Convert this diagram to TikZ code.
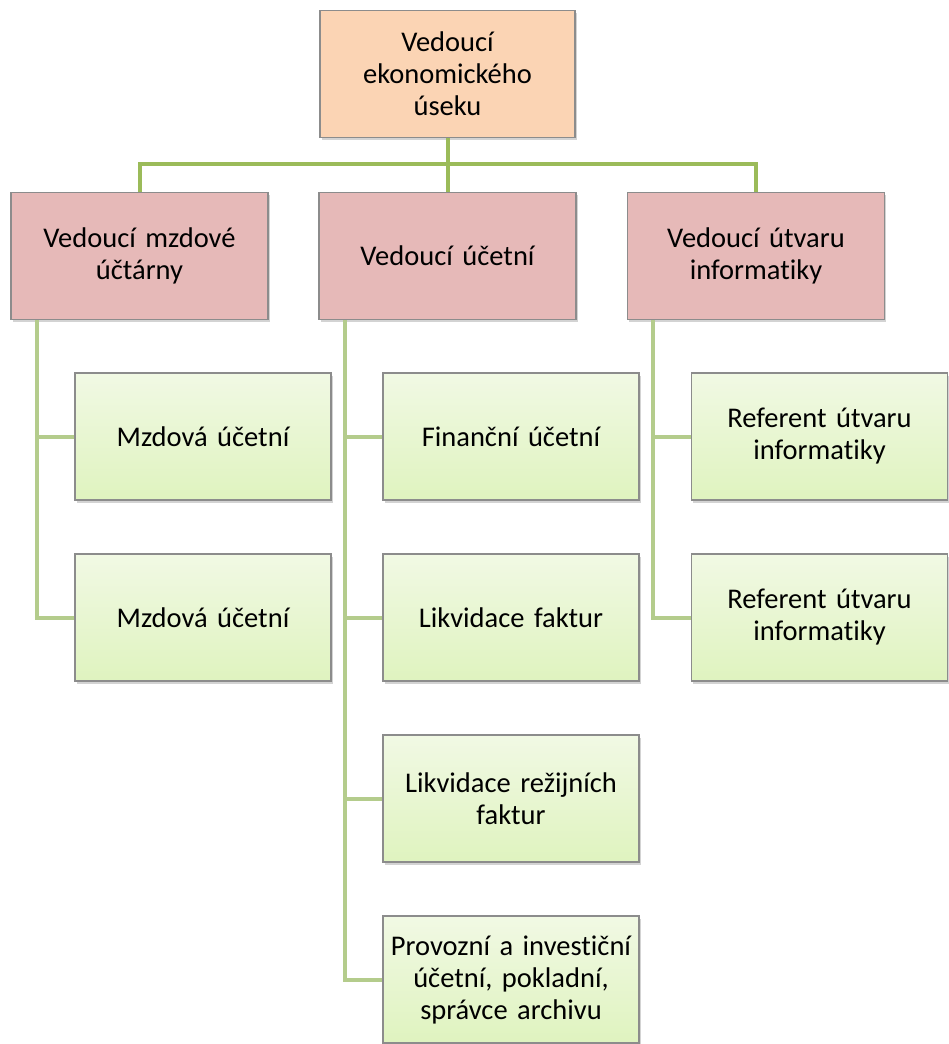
\documentclass[tikz,border=0pt]{standalone}
\usepackage{fontspec}
\setmainfont{Carlito}[Ligatures={NoCommon}]
\usepackage{xcolor}
\usepackage{tikz}
\usetikzlibrary{positioning, calc, shadows}

\definecolor{headfill}{HTML}{FBD4B4}
\definecolor{leadfill}{HTML}{E6B9B8}
\definecolor{stafftop}{HTML}{F1F9E4}
\definecolor{staffbot}{HTML}{DFF3BF}
\definecolor{boxline}{HTML}{8C8C8C}
\definecolor{busgreen}{HTML}{9BBB59}
\definecolor{branchgreen}{HTML}{B4CC8C}

\tikzset{
  orgbox/.style={draw=boxline, line width=1.2pt, align=center, text width=250pt,
    minimum height=127pt, inner sep=0pt, font=\fontsize{28.5}{32}\selectfont,
    drop shadow={opacity=0.35, shadow xshift=1.5pt, shadow yshift=-2.5pt}},
  headbox/.style={orgbox, fill=headfill, minimum width=255pt},
  leadbox/.style={orgbox, fill=leadfill, minimum width=257pt},
  staffbox/.style={orgbox, top color=stafftop, bottom color=staffbot, minimum width=256pt},
  busline/.style={busgreen, line width=4pt},
  branchline/.style={branchgreen, line width=4pt}
}

\begin{document}
\begin{tikzpicture}[x=1pt, y=-1pt]
  \useasboundingbox (0,0) rectangle (949,1044);

  \coordinate (bus) at (0,164);

  \node[headbox] (head) at (447.5,74) {Vedoucí\\ekonomického\\úseku};

  \node[leadbox] (mzdy) at (139.5,256) {Vedoucí mzdové\\účtárny};
  \node[leadbox] (ucto) at (447.5,256) {Vedoucí účetní};
  \node[leadbox] (info) at (756,256) {Vedoucí útvaru\\informatiky};

  \node[staffbox] (mz1) at (203,436.5) {Mzdová účetní};
  \node[staffbox] (mz2) at (203,617.5) {Mzdová účetní};

  \node[staffbox] (uc1) at (511,436.5) {Finanční účetní};
  \node[staffbox] (uc2) at (511,617.5) {Likvidace faktur};
  \node[staffbox] (uc3) at (511,798.5) {Likvidace režijních\\faktur};
  \node[staffbox] (uc4) at (511,979.5) {Provozní a investiční\\účetní, pokladní,\\správce archivu};

  \node[staffbox] (in1) at (819.5,436.5) {Referent útvaru\\informatiky};
  \node[staffbox] (in2) at (819.5,617.5) {Referent útvaru\\informatiky};

  % bus under the head
  \draw[busline] (head.south) -- (ucto.north);
  \draw[busline] (mzdy.north) -- (mzdy |- bus) -- (info |- bus) -- (info.north);

  % branches down to the staff
  \coordinate (sp1) at ($(mzdy.south)+(-102.5,0)$);
  \coordinate (sp2) at ($(ucto.south)+(-102.5,0)$);
  \coordinate (sp3) at ($(info.south)+(-103,0)$);
  \draw[branchline] (sp1) |- (mz2.west);
  \draw[branchline] (sp1 |- mz1.west) -- (mz1.west);
  \draw[branchline] (sp2) |- (uc4.west);
  \foreach \n in {uc1,uc2,uc3}
    \draw[branchline] (sp2 |- \n.west) -- (\n.west);
  \draw[branchline] (sp3) |- (in2.west);
  \draw[branchline] (sp3 |- in1.west) -- (in1.west);
\end{tikzpicture}
\end{document}
